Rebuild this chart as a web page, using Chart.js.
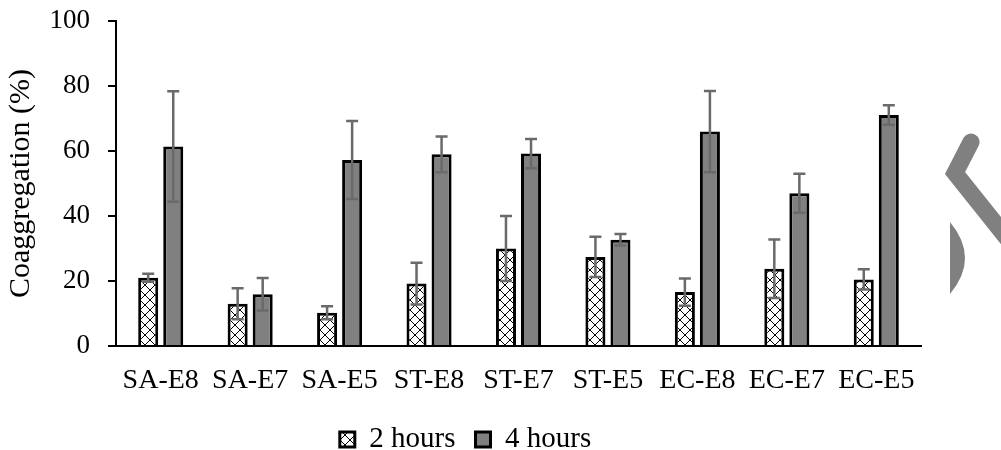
<!DOCTYPE html>
<html>
<head>
<meta charset="utf-8">
<script src="https://cdn.jsdelivr.net/npm/chart.js@4"></script>
<style>
  html, body { margin: 0; padding: 0; background: #fff; }
  #wrap { width: 1001px; height: 450px; }
</style>
</head>
<body>
<div id="wrap"><canvas id="chart1"></canvas></div>
<script>
// Values
const categories = ["SA-E8", "SA-E7", "SA-E5", "ST-E8", "ST-E7", "ST-E5", "EC-E8", "EC-E7", "EC-E5"];
const twoHours = [21.0, 13.0, 10.2, 19.2, 30.0, 27.4, 16.6, 23.8, 20.5];
const twoHoursSd = [1.2, 4.8, 2.0, 6.4, 10.0, 6.2, 4.2, 9.0, 3.1];
const fourHours = [61.4, 15.9, 57.2, 59.0, 59.2, 32.7, 66.0, 47.0, 71.1];
const fourHoursSd = [17.0, 5.0, 12.0, 5.5, 4.5, 1.8, 12.5, 6.0, 3.0];
const yTicks = [0, 20, 40, 60, 80, 100];

const serif = "'Liberation Serif', 'Times New Roman', serif";

// Cross-hatch fill for the 2 hour bars
function makeHatch() {
    const c = document.createElement("canvas");
    c.width = 10;
    c.height = 10;
    const g = c.getContext("2d");
    g.fillStyle = "#fff";
    g.fillRect(0, 0, 10, 10);
    g.strokeStyle = "#000";
    g.lineWidth = 1;
    g.beginPath();
    g.moveTo(0, 0); g.lineTo(10, 10);
    g.moveTo(10, 0); g.lineTo(0, 10);
    g.stroke();
    return g.createPattern(c, "repeat");
}

// Error bars drawn on top of the bars
const errorBars = {
    id: "errorBars",
    afterDatasetsDraw(chart) {
        const ctx = chart.ctx;
        const y = chart.scales.y;
        ctx.save();
        ctx.strokeStyle = "#6a6a6a";
        ctx.lineWidth = 2.5;
        chart.data.datasets.forEach((ds, i) => {
            const meta = chart.getDatasetMeta(i);
            meta.data.forEach((bar, j) => {
                const v = ds.data[j], sd = ds.sd[j];
                const top = y.getPixelForValue(v + sd);
                const bot = y.getPixelForValue(Math.max(0, v - sd));
                ctx.beginPath();
                ctx.moveTo(bar.x, top); ctx.lineTo(bar.x, bot);
                ctx.moveTo(bar.x - 6, top); ctx.lineTo(bar.x + 6, top);
                ctx.moveTo(bar.x - 6, bot); ctx.lineTo(bar.x + 6, bot);
                ctx.stroke();
            });
        });
        ctx.restore();
    }
};

// Grey fragment of a mark on the right edge of the figure
const edgeMark = {
    id: "edgeMark",
    afterDraw(chart) {
        const ctx = chart.ctx;
        ctx.save();
        ctx.strokeStyle = "#808080";
        ctx.fillStyle = "#808080";
        ctx.lineWidth = 17;
        ctx.lineCap = "round";
        ctx.beginPath();
        ctx.moveTo(971, 142);
        ctx.lineTo(955, 173);
        ctx.lineTo(1010, 242);
        ctx.stroke();
        ctx.beginPath();
        ctx.moveTo(950, 222);
        ctx.quadraticCurveTo(980, 258, 950, 294);
        ctx.closePath();
        ctx.fill();
        ctx.restore();
    }
};

new Chart(document.getElementById("chart1").getContext("2d"), {
    type: "bar",
    data: {
        labels: categories,
        datasets: [{
            label: "2 hours",
            data: twoHours,
            sd: twoHoursSd,
            backgroundColor: makeHatch(),
            borderColor: "#000",
            borderWidth: 3,
            categoryPercentage: 0.56,
            barPercentage: 0.8
        }, {
            label: "4 hours",
            data: fourHours,
            sd: fourHoursSd,
            backgroundColor: "#808080",
            borderColor: "#000",
            borderWidth: 3,
            categoryPercentage: 0.56,
            barPercentage: 0.8
        }]
    },
    options: {
        responsive: true,
        maintainAspectRatio: false,
        animation: false,
        layout: { padding: { top: 21, right: 80, bottom: -14, left: 10 } },
        plugins: {
            legend: {
                display: true,
                position: "bottom",
                labels: {
                    color: "#000",
                    font: { family: serif, size: 29 },
                    boxWidth: 15,
                    boxHeight: 15,
                    padding: 20
                }
            },
            tooltip: { enabled: false }
        },
        scales: {
            x: {
                afterFit(scale) { scale.height = 59; },
                grid: { display: false, drawTicks: false },
                border: { display: true, color: "#000", width: 2 },
                ticks: { color: "#000", font: { family: serif, size: 28 }, padding: 18, maxRotation: 0 }
            },
            y: {
                min: 0,
                max: 100,
                afterFit(scale) {
                    scale.width = 106;
                    scale.paddingTop = 0;
                    scale.paddingBottom = 0;
                },
                afterBuildTicks(scale) { scale.ticks = yTicks.map(v => ({ value: v })); },
                grid: { drawOnChartArea: false, drawTicks: true, tickLength: 8, color: "#000", lineWidth: 2 },
                border: { display: true, color: "#000", width: 2 },
                ticks: { color: "#000", font: { family: serif, size: 27 }, padding: 18 },
                title: {
                    display: true,
                    text: "Coaggregation (%)",
                    color: "#000",
                    font: { family: serif, size: 30 },
                    padding: { top: -7, bottom: 0 }
                }
            }
        }
    },
    plugins: [errorBars, edgeMark]
});
</script>
</body>
</html>
